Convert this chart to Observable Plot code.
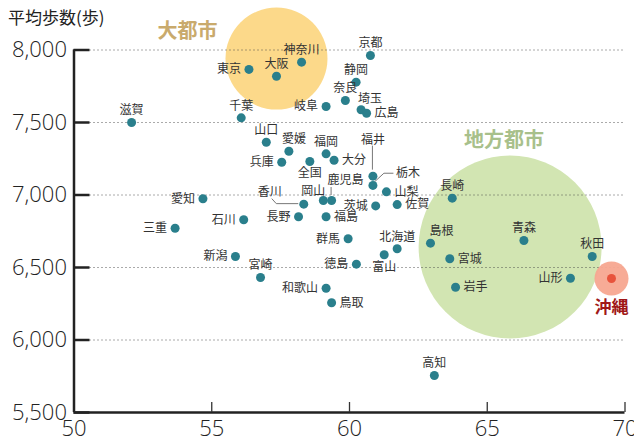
<!DOCTYPE html>
<html><head><meta charset="utf-8">
<script src="https://cdn.jsdelivr.net/npm/d3@7"></script>
<script src="https://cdn.jsdelivr.net/npm/@observablehq/plot@0.6"></script>
<style>body{margin:0;background:#fff;}</style>
</head><body><div id="chart"></div>
<script>
const prefectures = ["滋賀","東京","大阪","神奈川","京都","静岡","奈良","岐阜","埼玉","広島","千葉","山口","愛媛","兵庫","全国","福岡","大分","福井","栃木","山梨","鹿児島","岡山","香川","長野","福島","茨城","佐賀","愛知","石川","三重","新潟","宮崎","群馬","北海道","富山","徳島","和歌山","鳥取","島根","長崎","宮城","岩手","青森","秋田","山形","高知"];
const xValues = [52.09,56.35,57.35,58.26,60.76,60.24,59.85,59.15,60.42,60.62,56.07,56.98,57.80,57.54,58.56,59.15,59.44,60.85,60.85,61.34,59.35,59.05,58.34,58.15,59.15,60.95,61.73,54.68,56.16,53.67,55.86,56.77,59.95,61.73,61.26,60.25,59.15,59.35,62.94,63.73,63.64,63.85,66.33,68.81,68.02,63.08];
const steps = [7500,7866,7819,7916,7962,7778,7652,7610,7588,7564,7532,7364,7302,7226,7231,7284,7240,7130,7066,7022,6962,6962,6937,6850,6850,6925,6934,6974,6829,6771,6576,6431,6698,6629,6588,6523,6357,6257,6668,6978,6560,6364,6686,6576,6426,5755];
const labelSide = ["t","l","t","t","t","t","t","l","t","r","t","t","t","l","b","t","r","t","r","r","t","t","t","l","r","l","r","l","l","l","l","t","l","t","b","l","l","r","t","t","r","r","t","t","l","t"];
const clusterNames = ["大都市","地方都市","沖縄"];
const clusterX = [57.35, 65.83, 69.51];
const clusterY = [7941, 6641, 6424];
const xTicks = [50,55,60,65,70];
const yTicks = [5500,6000,6500,7000,7500,8000];
const yTitle = "平均歩数(歩)";

// layout (pixel offsets for labels)
const W = 634, H = 443, ML = 73.5, MR = 9.5, MT = 49.5, MB = 31;
const sideOffsets = {t:[0,-12,"middle"], l:[-8,0,"end"], r:[8,0,"start"], b:[0,12,"middle"]};
const specialOffsets = {"埼玉":[9,-11,"middle"], "島根":[11,-12,"middle"], "鹿児島":[14,-20,"middle"], "岡山":[-10,-9,"middle"], "福井":[0,-36,"middle"], "栃木":[23,-12,"start"], "香川":[-34,-12,"middle"], "愛媛":[5,-12,"middle"]};
const leaderPaths = {"福井":[[0,-30],[0,-6]], "栃木":[[2,-3],[11.5,-11.7],[21,-11.7]], "鹿児島":[[0,-13],[0,-5]], "香川":[[-31.5,-5],[-27,0],[-5,0]]};

const JP = "'Noto Sans CJK JP', sans-serif";
const NUM = "'Open Sans', Roboto, sans-serif";
const idx = prefectures.map((_, i) => i);

const labelMarks = idx.map(i => {
  const o = specialOffsets[prefectures[i]] || sideOffsets[labelSide[i]];
  return Plot.text([i], {x: j => xValues[j], y: j => steps[j], text: j => prefectures[j], dx: o[0], dy: o[1], textAnchor: o[2], fontSize: 12, fill: "#333", fontFamily: JP});
});

function leaders(index, scales) {
  const g = d3.create("svg:g").attr("fill", "none").attr("stroke", "#777").attr("stroke-width", 1);
  for (const [name, pts] of Object.entries(leaderPaths)) {
    const i = prefectures.indexOf(name);
    const cx = scales.x(xValues[i]), cy = scales.y(steps[i]);
    g.append("path").attr("d", d3.line()(pts.map(([dx, dy]) => [cx + dx, cy + dy])));
  }
  return g.node();
}

const frameW = W - ML - MR, frameH = H - MT - MB;

const chart = Plot.plot({
  width: W, height: H,
  marginLeft: ML, marginRight: MR, marginTop: MT, marginBottom: MB,
  x: {domain: [xTicks[0], xTicks[xTicks.length-1]]},
  y: {domain: [yTicks[0], yTicks[yTicks.length-1]]},
  style: {fontFamily: JP, background: "#fff"},
  marks: [
    Plot.dot([0], {x: i => clusterX[i], y: i => clusterY[i], r: 51, fill: "#fcd98a"}),
    Plot.dot([1], {x: i => clusterX[i], y: i => clusterY[i], r: 91.5, fill: "#d2e5b2"}),
    Plot.gridY(yTicks.slice(1), {stroke: "#444", strokeOpacity: 0.9, strokeDasharray: "1,3"}),
    Plot.dot([2], {x: i => clusterX[i], y: i => clusterY[i], r: 17, fill: "#f7a690", fillOpacity: 0.95}),
    Plot.ruleX([xTicks[0]], {stroke: "#222", strokeWidth: 2.5}),
    Plot.ruleY([yTicks[0]], {stroke: "#222", strokeWidth: 2.5}),
    Plot.tickY(yTicks, {y: d => d, insetRight: frameW - 16, stroke: "#222", strokeWidth: 2.5}),
    Plot.tickX(xTicks.slice(1), {x: d => d, insetTop: frameH - 10, stroke: "#333", strokeWidth: 1.3}),
    Plot.axisY(yTicks, {tickSize: 0, tickPadding: 7, tickFormat: d3.format(","), fontSize: 22, fontFamily: NUM, fontWeight: 300, fill: "#222", label: null}),
    Plot.axisX(xTicks, {tickSize: 0, tickPadding: 8, fontSize: 22, fontFamily: NUM, fontWeight: 300, fill: "#222", label: null}),
    leaders,
    Plot.dot(idx, {x: i => xValues[i], y: i => steps[i], r: 4.5, fill: "#2a7f8c"}),
    Plot.dot([2], {x: i => clusterX[i], y: i => clusterY[i], r: 4.5, fill: "#e8533c"}),
    ...labelMarks,
    Plot.text([0], {x: i => clusterX[i], y: i => clusterY[i], text: i => clusterNames[i], dx: -89, dy: -27, fontSize: 20, fontWeight: "bold", fill: "#c9aa6c", fontFamily: JP}),
    Plot.text([1], {x: i => clusterX[i], y: i => clusterY[i], text: i => clusterNames[i], dx: -6, dy: -106, fontSize: 20, fontWeight: "bold", fill: "#a8c08b", fontFamily: JP}),
    Plot.text([2], {x: i => clusterX[i], y: i => clusterY[i], text: i => clusterNames[i], dx: 0, dy: 29, fontSize: 17, fontWeight: "bold", fill: "#a01818", fontFamily: JP}),
    Plot.text([yTitle], {frameAnchor: "top-left", dx: -66, dy: -31.5, textAnchor: "start", lineAnchor: "middle", fontSize: 17, fill: "#222", fontFamily: JP})
  ]
});
document.getElementById("chart").append(chart);
</script>
</body></html>
